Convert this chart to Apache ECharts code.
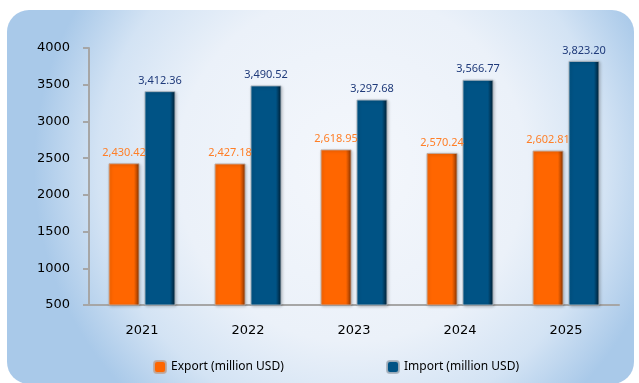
<!DOCTYPE html>
<html>
<head>
<meta charset="utf-8">
<script src="https://cdn.jsdelivr.net/npm/echarts@6/dist/echarts.min.js"></script>
<style>
  html, body { margin: 0; padding: 0; background: #ffffff; }
  #chart { width: 639px; height: 383px; }
</style>
</head>
<body>
<div id="chart"></div>
<script>
// Trade values per year, million USD
const years = ['2021', '2022', '2023', '2024', '2025'];
const exportValues = [2430.42, 2427.18, 2618.95, 2570.24, 2602.81];
const importValues = [3412.36, 3490.52, 3297.68, 3566.77, 3823.20];
const seriesNames = ['Export (million USD)', 'Import (million USD)'];

const chart = echarts.init(document.getElementById('chart'));

function bevel(light, base, dark, deep) {
  return new echarts.graphic.LinearGradient(0, 0, 1, 0, [
    { offset: 0, color: light },
    { offset: 0.08, color: base },
    { offset: 0.82, color: base },
    { offset: 0.9, color: dark },
    { offset: 1, color: deep }
  ]);
}

const fmt = v => v.toLocaleString('en-US', { minimumFractionDigits: 2, maximumFractionDigits: 2 });

chart.setOption({
  animation: false,
  graphic: [{
    type: 'rect',
    z: -10,
    shape: { x: 7, y: 10, width: 627, height: 374, r: 22 },
    style: {
      fill: new echarts.graphic.RadialGradient(0.55, 0.42, 0.85, [
        { offset: 0, color: '#f4f7fc' },
        { offset: 0.55, color: '#ebf1f9' },
        { offset: 0.8, color: '#d3e3f4' },
        { offset: 1, color: '#a9c9e9' }
      ])
    }
  }],
  grid: { left: 89, right: 20, top: 48, bottom: 78 },
  legend: [{
    data: [seriesNames[0]],
    left: 148, top: 355,
    itemWidth: 12, itemHeight: 12, itemGap: 4,
    textStyle: { fontFamily: 'Noto Sans', fontSize: 12, color: '#000' }
  }, {
    data: [seriesNames[1]],
    left: 381, top: 355,
    itemWidth: 12, itemHeight: 12, itemGap: 4,
    textStyle: { fontFamily: 'Noto Sans', fontSize: 12, color: '#000' }
  }],
  xAxis: {
    type: 'category',
    data: years,
    axisLine: { lineStyle: { color: '#a6a6a6', width: 2 } },
    axisTick: { show: false },
    axisLabel: { color: '#000', fontFamily: 'DejaVu Sans', fontSize: 13, margin: 19 }
  },
  yAxis: {
    type: 'value',
    min: 500, max: 4000, interval: 500,
    splitLine: { show: false },
    axisLine: { show: true, lineStyle: { color: '#a6a6a6', width: 2 } },
    axisTick: { show: true, length: 6, lineStyle: { color: '#a6a6a6', width: 2 } },
    axisLabel: {
      color: '#000', fontFamily: 'DejaVu Sans', fontSize: 13, margin: 19,
      formatter: v => String(v)
    }
  },
  series: [{
    name: seriesNames[0],
    type: 'bar',
    data: exportValues,
    barWidth: 31,
    barGap: '16%',
    itemStyle: {
      color: bevel('#ff7a1f', '#ff6600', '#c94f00', '#7a3000'),
      borderColor: 'rgba(190,170,160,0.9)', borderWidth: 1,
      shadowColor: 'rgba(0,0,0,0.25)', shadowBlur: 3, shadowOffsetX: 1, shadowOffsetY: 1
    },
    label: {
      show: true, position: 'top', distance: 5,
      formatter: p => fmt(p.value),
      color: '#ff7f27', fontFamily: 'Noto Sans', fontSize: 11
    }
  }, {
    name: seriesNames[1],
    type: 'bar',
    data: importValues,
    barWidth: 31,
    itemStyle: {
      color: bevel('#0a6094', '#005385', '#003a5e', '#001c30'),
      borderColor: 'rgba(170,180,190,0.9)', borderWidth: 1,
      shadowColor: 'rgba(0,0,0,0.25)', shadowBlur: 3, shadowOffsetX: 1, shadowOffsetY: 1
    },
    label: {
      show: true, position: 'top', distance: 5,
      formatter: p => fmt(p.value),
      color: '#1f3a7a', fontFamily: 'Noto Sans', fontSize: 11
    }
  }]
});
</script>
</body>
</html>
